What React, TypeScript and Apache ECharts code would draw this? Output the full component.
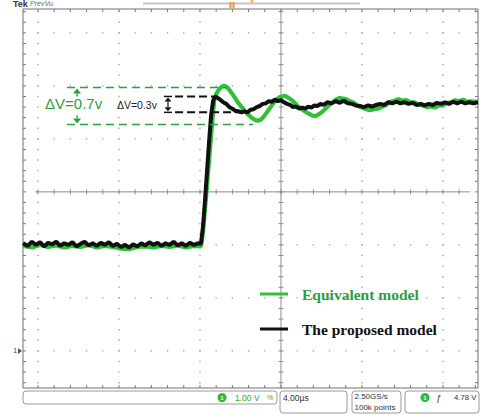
import React, { useEffect, useRef } from "react";
import * as echarts from "echarts";

// Scope settings: 4 µs per horizontal division, 1 V per vertical division
const TIME_PER_DIV = 4;
const VOLTS_PER_DIV = 1;
const MINOR_PER_DIV = 5;
const TIME_MIN = -8.74;
const TIME_MAX = 13.73;
const VOLT_MIN = -0.7;
const VOLT_MAX = 6.45;
const CENTER_TIME = 4;
const CENTER_VOLT = 3;
const GRID_TIMES = [-8, -4, 0, 8, 12];
const GRID_VOLTS = [0, 1, 2, 4, 5, 6];

const seriesNames = ["Equivalent model", "The proposed model"];

// Equivalent model step response (µs, V)
const equivalentTime = [
  -8.74, -8.3, -7.9, -7.5, -7.1, -6.7, -6.3, -5.9, -5.5, -5.1, -4.7, -4.3, -3.9, -3.5, -3.1, -2.7, -2.3, -1.9, -1.5, -1.1, -0.7, -0.3, 0.05,
  0.15, 0.3, 0.45, 0.6, 0.7, 0.8, 0.95, 1.1, 1.2, 1.35, 1.5, 1.65, 1.8, 1.95, 2.1, 2.25, 2.4, 2.55, 2.7, 2.85, 3.0, 3.15, 3.3, 3.45, 3.6,
  3.75, 3.9, 4.05, 4.2, 4.35, 4.5, 4.65, 4.8, 4.95, 5.1, 5.25, 5.4, 5.55, 5.7, 5.85, 6.0, 6.15, 6.3, 6.45, 6.6, 6.75, 6.9, 7.05, 7.2,
  7.4, 7.6, 7.8, 8.0, 8.2, 8.4, 8.6, 8.8, 9.0, 9.2, 9.4, 9.6, 9.8, 10.0, 10.2, 10.4, 10.6, 10.8, 11.0, 11.2, 11.4, 11.6, 11.8, 12.0,
  12.2, 12.4, 12.6, 12.8, 13.0, 13.2, 13.4, 13.73,
];
const equivalentVolts = [
  1.98, 1.95, 2.0, 1.96, 1.99, 1.95, 1.98, 1.96, 2.0, 1.95, 1.98, 1.96, 1.93, 1.92, 1.96, 1.97, 1.95, 1.98, 1.96, 1.99, 1.95, 1.98, 1.97,
  2.25, 2.9, 3.6, 4.3, 4.72, 4.85, 4.94, 4.99, 5.0, 4.97, 4.9, 4.82, 4.73, 4.65, 4.58, 4.51, 4.45, 4.4, 4.36, 4.34, 4.36, 4.42, 4.5, 4.58, 4.66,
  4.73, 4.78, 4.8, 4.81, 4.78, 4.74, 4.69, 4.63, 4.58, 4.54, 4.5, 4.47, 4.44, 4.43, 4.46, 4.5, 4.55, 4.61, 4.66, 4.71, 4.75, 4.77, 4.76, 4.75,
  4.71, 4.68, 4.62, 4.59, 4.56, 4.54, 4.56, 4.57, 4.61, 4.64, 4.7, 4.72, 4.75, 4.72, 4.73, 4.69, 4.69, 4.64, 4.63, 4.6, 4.61, 4.59, 4.63, 4.63,
  4.68, 4.69, 4.73, 4.71, 4.74, 4.7, 4.71, 4.7,
];

// Proposed model step response (µs, V)
const proposedTime = [
  -8.74, -8.5, -8.3, -8.1, -7.9, -7.7, -7.5, -7.3, -7.1, -6.9, -6.7, -6.5, -6.3, -6.1, -5.9, -5.7, -5.5, -5.3, -5.1, -4.9, -4.7, -4.5,
  -4.3, -4.1, -3.9, -3.7, -3.5, -3.3, -3.1, -2.9, -2.7, -2.5, -2.3, -2.1, -1.9, -1.7, -1.5, -1.3, -1.1, -0.9, -0.7, -0.5, -0.3, -0.1, 0.05,
  0.15, 0.25, 0.35, 0.45, 0.55, 0.65, 0.75, 0.85, 1.0, 1.15, 1.3, 1.45, 1.6, 1.75, 1.9, 2.05, 2.2, 2.35, 2.5, 2.65, 2.8, 2.95, 3.1, 3.25,
  3.4, 3.55, 3.7, 3.85, 4.0, 4.15, 4.3, 4.45, 4.6, 4.75, 4.9, 5.05, 5.2, 5.35, 5.5, 5.65, 5.8, 5.95, 6.1, 6.3, 6.5, 6.7, 6.9, 7.1, 7.3,
  7.5, 7.7, 7.9, 8.1, 8.3, 8.5, 8.7, 8.9, 9.1, 9.3, 9.5, 9.7, 9.9, 10.1, 10.3, 10.5, 10.7, 10.9, 11.1, 11.3, 11.5, 11.7, 11.9, 12.1, 12.3,
  12.5, 12.7, 12.9, 13.1, 13.3, 13.5, 13.73,
];
const proposedVolts = [
  2.03, 1.98, 2.06, 2.0, 2.05, 1.97, 2.04, 2.01, 2.06, 1.98, 2.03, 2.0, 2.05, 1.97, 2.02, 2.06, 1.99, 2.03, 1.98, 2.04, 2.0, 2.05,
  1.98, 2.02, 1.96, 2.0, 1.95, 2.01, 1.97, 2.03, 1.99, 2.05, 2.0, 2.04, 1.98, 2.03, 2.0, 2.06, 1.99, 2.03, 1.98, 2.04, 2.0, 2.03, 2.02,
  2.35, 2.85, 3.4, 3.95, 4.45, 4.72, 4.8, 4.78, 4.74, 4.69, 4.66, 4.6, 4.57, 4.53, 4.52, 4.5, 4.52, 4.5, 4.55, 4.56, 4.6, 4.62, 4.66, 4.67,
  4.71, 4.7, 4.74, 4.71, 4.73, 4.69, 4.66, 4.64, 4.6, 4.61, 4.57, 4.59, 4.57, 4.61, 4.59, 4.63, 4.62, 4.66, 4.64, 4.69, 4.67, 4.71, 4.68, 4.72, 4.67,
  4.66, 4.63, 4.62, 4.6, 4.63, 4.61, 4.64, 4.66, 4.64, 4.69, 4.67, 4.7, 4.67, 4.69, 4.66, 4.68, 4.64, 4.66, 4.63, 4.66, 4.64, 4.68, 4.66, 4.69, 4.66,
  4.7, 4.67, 4.7, 4.67, 4.69, 4.67, 4.69,
];

// Overshoot annotations (V)
const equivalentOvershootTop = 4.97;
const equivalentOvershoot = 0.7;
const proposedOvershootTop = 4.8;
const proposedOvershoot = 0.3;
const equivalentLabel = "ΔV=0.7v";
const proposedLabel = "ΔV=0.3v";

// Readout texts
const channelScale = "1.00 V";
const timebase = "4.00µs";
const sampleRate = "2.50GS/s";
const recordLength = "100k points";
const triggerLevel = "4.78 V";

const TRACE_GREEN = "#2fc03a";
const NOTE_GREEN = "#2c9e3e";
const TRACE_BLACK = "#111111";
const SANS = '"Liberation Sans", Arial, sans-serif';
const SERIF = '"Liberation Serif", "Times New Roman", serif';

function renderGraticule(_params: any, api: any) {
  const children: any[] = [];
  const c = (t: number, v: number) => api.coord([t, v]);
  const minorT = TIME_PER_DIV / MINOR_PER_DIV;
  const minorV = VOLTS_PER_DIV / MINOR_PER_DIV;
  const line = (x1: number, y1: number, x2: number, y2: number, stroke = "#8c8c8c") =>
    children.push({ type: "line", shape: { x1, y1, x2, y2 }, style: { stroke, lineWidth: 1 } });
  const dot = (t: number, v: number) => {
    const p = c(t, v);
    children.push({
      type: "rect",
      shape: { x: p[0] - 0.7, y: p[1] - 0.7, width: 1.4, height: 1.4 },
      style: { fill: "#a4a4a4" },
    });
  };
  GRID_VOLTS.forEach((v) => {
    for (let k = 0; k <= 26; k++) dot(-8 + k * minorT, v);
  });
  GRID_TIMES.forEach((t) => {
    for (let k = 0; k <= 35; k++) dot(t, -0.6 + k * minorV);
  });

  // centre cross with minor ticks
  const h1 = c(-8.15, CENTER_VOLT);
  const h2 = c(13.33, CENTER_VOLT);
  line(h1[0], h1[1], h2[0], h2[1]);
  for (let k = 0; k <= 26; k++) {
    const p = c(-8 + k * minorT, CENTER_VOLT);
    line(p[0], p[1] - 2.5, p[0], p[1] + 2.5);
  }
  const v1 = c(CENTER_TIME, VOLT_MAX);
  const v2 = c(CENTER_TIME, VOLT_MIN);
  line(v1[0], v1[1], v2[0], v2[1]);
  for (let k = 0; k <= 35; k++) {
    const p = c(CENTER_TIME, -0.6 + k * minorV);
    line(p[0] - 2.5, p[1], p[0] + 2.5, p[1]);
  }

  // minor ticks on the frame
  for (let k = 0; k <= 35; k++) {
    const l = c(TIME_MIN, -0.6 + k * minorV);
    const r = c(TIME_MAX, -0.6 + k * minorV);
    line(l[0], l[1], l[0] + 3, l[1], "#777");
    line(r[0], r[1], r[0] - 3, r[1], "#777");
  }
  for (let k = 0; k <= 27; k++) {
    const t = c(-8 + k * minorT, VOLT_MAX);
    const b = c(-8 + k * minorT, VOLT_MIN);
    line(t[0], t[1], t[0], t[1] + 3, "#777");
    line(b[0], b[1], b[0], b[1] - 3, "#777");
  }

  // channel 1 ground marker
  const g = c(TIME_MIN, 0);
  children.push({
    type: "text",
    x: g[0] - 10,
    y: g[1],
    style: { text: "1", fill: "#555", font: `8px ${SANS}`, textAlign: "left", textVerticalAlign: "middle" },
  });
  children.push({
    type: "polygon",
    shape: { points: [[g[0] - 5, g[1] - 3], [g[0] - 1, g[1]], [g[0] - 5, g[1] + 3]] },
    style: { fill: "#555" },
  });
  return { type: "group", children };
}

function renderAnnotations(_params: any, api: any) {
  const children: any[] = [];
  const c = (t: number, v: number) => api.coord([t, v]);
  const dashed = (t1: number, t2: number, v: number, stroke: string, lineWidth: number, dash: number[]) => {
    const a = c(t1, v);
    const b = c(t2, v);
    children.push({
      type: "line",
      shape: { x1: a[0], y1: a[1], x2: b[0], y2: b[1] },
      style: { stroke, lineWidth, lineDash: dash },
    });
  };
  const tri = (pts: number[][], fill: string) =>
    children.push({ type: "polygon", shape: { points: pts }, style: { fill } });
  const seg = (x1: number, y1: number, x2: number, y2: number, stroke: string, lineWidth = 1.5) =>
    children.push({ type: "line", shape: { x1, y1, x2, y2 }, style: { stroke, lineWidth } });

  // equivalent model overshoot span
  const gTop = equivalentOvershootTop;
  const gBot = equivalentOvershootTop - equivalentOvershoot;
  dashed(-6.57, 1.33, gTop, NOTE_GREEN, 1.6, [8, 5]);
  dashed(-6.57, 2.62, gBot, NOTE_GREEN, 1.6, [8, 5]);
  const ga = c(-6.07, gTop);
  const gb = c(-6.07, gBot);
  tri([[ga[0], ga[1] + 1], [ga[0] - 4, ga[1] + 6], [ga[0] + 4, ga[1] + 6]], NOTE_GREEN);
  seg(ga[0], ga[1] + 6, ga[0], ga[1] + 9, NOTE_GREEN);
  tri([[gb[0], gb[1] - 1], [gb[0] - 4, gb[1] - 6], [gb[0] + 4, gb[1] - 6]], NOTE_GREEN);
  seg(gb[0], gb[1] - 6, gb[0], gb[1] - 9, NOTE_GREEN);
  const gl = c(-7.65, 4.66);
  children.push({
    type: "text",
    x: gl[0],
    y: gl[1],
    style: { text: equivalentLabel, fill: NOTE_GREEN, font: `15px ${SANS}`, textAlign: "left", textVerticalAlign: "middle" },
  });

  // proposed model overshoot span
  const bTop = proposedOvershootTop;
  const bBot = proposedOvershootTop - proposedOvershoot;
  dashed(-1.23, 0.64, bTop, TRACE_BLACK, 2, [8, 4]);
  dashed(-1.23, 1.98, bBot, TRACE_BLACK, 2, [8, 4]);
  const ba = c(-1.58, bTop);
  const bb = c(-1.58, bBot);
  seg(ba[0] - 4, ba[1], ba[0] + 4, ba[1], TRACE_BLACK);
  seg(bb[0] - 4, bb[1], bb[0] + 4, bb[1], TRACE_BLACK);
  tri([[ba[0], ba[1] + 1], [ba[0] - 3.5, ba[1] + 5], [ba[0] + 3.5, ba[1] + 5]], TRACE_BLACK);
  tri([[bb[0], bb[1] - 1], [bb[0] - 3.5, bb[1] - 5], [bb[0] + 3.5, bb[1] - 5]], TRACE_BLACK);
  seg(ba[0], ba[1] + 5, bb[0], bb[1] - 5, TRACE_BLACK, 1.2);
  const bl = c(-4.1, 4.64);
  children.push({
    type: "text",
    x: bl[0],
    y: bl[1],
    style: { text: proposedLabel, fill: "#222", font: `10.5px ${SANS}`, textAlign: "left", textVerticalAlign: "middle" },
  });
  return { type: "group", children };
}

function readoutBox(x: number, y: number, width: number, height: number) {
  return {
    type: "rect",
    shape: { x, y, width, height, r: 3 },
    style: { fill: "#ffffff", stroke: "#9a9a9a", lineWidth: 1 },
  };
}

function readoutText(x: number, y: number, text: string, fill = "#333", size = 8.5, extra = "") {
  return {
    type: "text",
    x,
    y,
    style: { text, fill, font: `${extra}${size}px ${SANS}`, textAlign: "left", textVerticalAlign: "middle" },
  };
}

function channelBadge(cx: number, cy: number) {
  return [
    { type: "circle", shape: { cx, cy, r: 4.5 }, style: { fill: "#2fb83a" } },
    {
      type: "text",
      x: cx,
      y: cy,
      style: { text: "1", fill: "#fff", font: `bold 6px ${SANS}`, textAlign: "center", textVerticalAlign: "middle" },
    },
  ];
}

export default function App() {
  const ref = useRef<HTMLDivElement>(null);

  useEffect(() => {
    if (!ref.current) return;
    const chart = echarts.init(ref.current, null, { renderer: "svg" });

    const equivalentData = equivalentTime.map((t, i) => [t, equivalentVolts[i]]);
    const proposedData = proposedTime.map((t, i) => [t, proposedVolts[i]]);

    chart.setOption({
      animation: false,
      backgroundColor: "#ffffff",
      grid: {
        left: 23,
        top: 9,
        width: 455,
        height: 379,
        show: true,
        borderColor: "#707070",
        borderWidth: 1,
        backgroundColor: "transparent",
      },
      xAxis: { type: "value", min: TIME_MIN, max: TIME_MAX, show: false },
      yAxis: { type: "value", min: VOLT_MIN, max: VOLT_MAX, show: false },
      legend: {
        orient: "vertical",
        left: 260,
        top: 286,
        padding: 0,
        itemGap: 19,
        itemWidth: 28,
        itemHeight: 3,
        icon: "rect",
        selectedMode: false,
        textStyle: {
          fontFamily: SERIF,
          fontWeight: "bold",
          fontSize: 15.5,
          padding: [0, 0, 0, 9],
        },
        data: [
          { name: seriesNames[0], textStyle: { color: NOTE_GREEN } },
          { name: seriesNames[1], textStyle: { color: TRACE_BLACK } },
        ],
      },
      graphic: [
        {
          type: "text",
          x: 13,
          y: -1,
          style: { text: "Tek", fill: "#333", font: `bold 9px ${SANS}`, textAlign: "left", textVerticalAlign: "top" },
        },
        {
          type: "text",
          x: 30,
          y: 0,
          style: { text: "PrevVu", fill: "#666", font: `italic 7px ${SANS}`, textAlign: "left", textVerticalAlign: "top" },
        },
        { type: "rect", shape: { x: 143, y: 2.5, width: 217, height: 2 }, style: { fill: "#c6c6c6" } },
        { type: "rect", shape: { x: 229.5, y: 2, width: 2, height: 6 }, style: { fill: "#e09a2a" } },
        { type: "rect", shape: { x: 232.5, y: 2, width: 2, height: 6 }, style: { fill: "#e09a2a" } },
        { type: "rect", shape: { x: 250.5, y: 0, width: 3, height: 3 }, style: { fill: "#f0c070" } },

        readoutBox(23, 391, 254, 13),
        ...channelBadge(222, 397.5),
        readoutText(235, 397.5, channelScale, "#2fa83a"),
        readoutText(267, 397.5, "%", "#2fa83a", 7),
        readoutBox(280, 391, 67, 22),
        readoutText(283, 397.5, timebase),
        readoutBox(352, 391, 49, 22),
        readoutText(354.5, 396.5, sampleRate, "#333", 8),
        readoutText(354.5, 407, recordLength, "#333", 8),
        readoutBox(405, 391, 74, 22),
        ...channelBadge(425, 397.5),
        readoutText(436, 397.5, "ƒ", "#333", 9, "italic "),
        readoutText(454, 397.5, triggerLevel, "#333", 7.8),
      ],
      series: [
        {
          name: "graticule",
          type: "custom",
          silent: true,
          z: 1,
          data: [[0, 0]],
          renderItem: renderGraticule,
        },
        {
          name: seriesNames[0],
          type: "line",
          data: equivalentData,
          showSymbol: false,
          symbol: "none",
          silent: true,
          z: 2,
          color: TRACE_GREEN,
          lineStyle: { color: TRACE_GREEN, width: 4.2 },
        },
        {
          name: seriesNames[1],
          type: "line",
          data: proposedData,
          showSymbol: false,
          symbol: "none",
          silent: true,
          z: 3,
          color: TRACE_BLACK,
          lineStyle: { color: TRACE_BLACK, width: 4 },
        },
        {
          name: "overshoot",
          type: "custom",
          silent: true,
          z: 4,
          data: [[0, 0]],
          renderItem: renderAnnotations,
        },
      ],
    });

    return () => chart.dispose();
  }, []);

  return (
    <div
      ref={ref}
      style={{ position: "absolute", left: 0, top: 0, width: 481, height: 415, background: "#fff" }}
    />
  );
}
